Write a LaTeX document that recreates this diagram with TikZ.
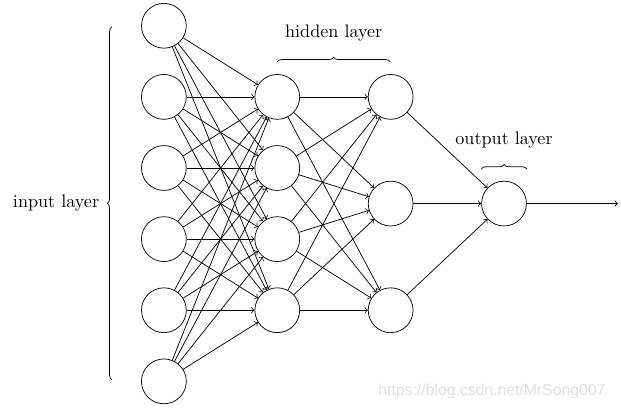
\documentclass[tikz,border=0pt]{standalone}
\usepackage{fontspec}
\newfontfamily\wmfont{Liberation Sans}
\usetikzlibrary{decorations.pathreplacing}

\begin{document}
\begin{tikzpicture}[
		neuron/.style={circle,draw,inner sep=0pt,minimum size=0.87cm},
		conn/.style={->},
		layerbrace/.style={decorate,decoration={brace,amplitude=2.5pt}}
	]
		\useasboundingbox (0,0) rectangle (12.05,-7.92);
		% input layer
		\foreach \i in {1,...,6}
			\node[neuron] (I\i) at (3.18,{-0.50-1.38*(\i-1)}) {};
		% hidden layers
		\foreach \i in {1,...,4}
			\node[neuron] (H\i) at (5.38,{-1.88-1.38*(\i-1)}) {};
		\foreach \i in {1,...,3}
			\node[neuron] (K\i) at (7.58,{-1.88-2.07*(\i-1)}) {};
		% output layer
		\node[neuron] (O) at (9.78,-3.95) {};
		\coordinate (out) at (11.99,-3.95);
		% connections
		\foreach \i in {1,...,6}
			\foreach \j in {1,...,4}
				\draw[conn] (I\i) -- (H\j);
		\foreach \i in {1,...,4}
			\foreach \j in {1,...,3}
				\draw[conn] (H\i) -- (K\j);
		\foreach \i in {1,...,3}
			\draw[conn] (K\i) -- (O);
		\draw[conn] (O) -- (out);
		% braces
		\draw[layerbrace] (2.17,-7.37) -- (2.17,-0.52) node[midway,left=3.5pt] {input layer};
		\draw[layerbrace] (5.38,-1.20) -- (7.57,-1.20) node[midway,above=8pt] {hidden layer};
		\draw[layerbrace] (O.west |- 0,-3.28) -- (O.east |- 0,-3.28) node[midway,above=8pt] {output layer};
		\node[anchor=base east,text=black!12,font=\wmfont\fontsize{8.7}{10}\selectfont] (wm) at (11.87,-7.68) {https://blog.csdn.net/MrSong007};
	\end{tikzpicture}
\end{document}
